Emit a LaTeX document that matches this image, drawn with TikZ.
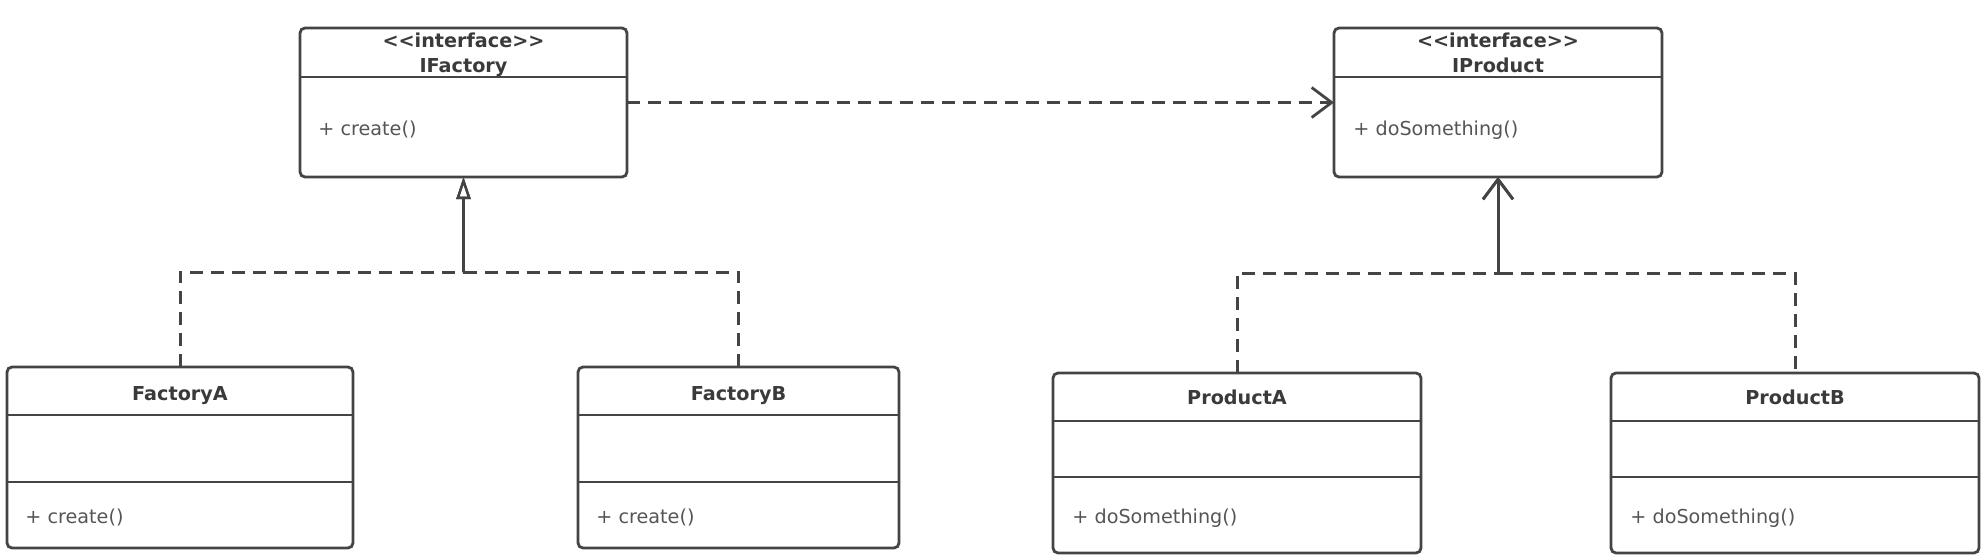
\documentclass[tikz,border=0pt]{standalone}
\usepackage{fontspec}
\setmainfont{DejaVu Sans}
\usepackage{xcolor}
\usetikzlibrary{arrows.meta,positioning}

\definecolor{umlline}{RGB}{68,68,68}
\definecolor{umltitle}{RGB}{58,58,58}
\definecolor{umltext}{RGB}{85,85,85}

\begin{document}
\begin{tikzpicture}[x=0.5pt,y=-0.5pt,
    font=\fontsize{9.6}{11}\selectfont,
    classbox/.style={draw=umlline,line width=1.4pt,rounded corners=2.5pt,
        inner sep=0pt,outer sep=0pt},
    title/.style={anchor=base,inner sep=0pt,text=umltitle,font=\fontsize{9.6}{11}\selectfont\bfseries},
    method/.style={anchor=base west,inner sep=0pt,text=umltext},
    divider/.style={draw=umlline,line width=1.4pt},
    realize/.style={draw=umlline,line width=1.5pt,dash pattern=on 6.5pt off 4pt,
        -{Triangle[open,length=11pt,width=7pt,line width=1.2pt]}},
    depend/.style={draw=umlline,line width=1.5pt,dash pattern=on 6.5pt off 4pt,
        -{Straight Barb[length=10pt,width=15pt,line width=1.4pt]}}]
    \useasboundingbox (0,0) rectangle (1986,556);

    % interfaces
    \node[classbox,minimum width=163.5pt,minimum height=74.5pt] (ifac) at (463.5,102.5) {};
    \draw[divider] (ifac.west |- 0,77) -- (ifac.east |- 0,77);
    \node[title] (ifacst) at (463.5,48) {<\kern0pt<interface>\kern0pt>};
    \node[title] (ifacname) at (463.5,73) {IFactory};
    \node[method] (ifacop) at (318,135) {+ create()};

    \node[classbox,minimum width=164pt,minimum height=74.5pt] (iprod) at (1498,102.5) {};
    \draw[divider] (iprod.west |- 0,77) -- (iprod.east |- 0,77);
    \node[title] (iprodst) at (1498,48) {<\kern0pt<interface>\kern0pt>};
    \node[title] (iprodname) at (1498,73) {IProduct};
    \node[method] (iprodop) at (1353,135) {+ doSomething()};

    % factories
    \node[classbox,minimum width=173pt,minimum height=90.5pt] (facA) at (180,457.5) {};
    \draw[divider] (facA.west |- 0,415) -- (facA.east |- 0,415);
    \draw[divider] (facA.west |- 0,482) -- (facA.east |- 0,482);
    \node[title] (facAname) at (180,400) {FactoryA};
    \node[method] (facAop) at (25,523) {+ create()};

    \node[classbox,minimum width=160.5pt,minimum height=90.5pt] (facB) at (738.5,457.5) {};
    \draw[divider] (facB.west |- 0,415) -- (facB.east |- 0,415);
    \draw[divider] (facB.west |- 0,482) -- (facB.east |- 0,482);
    \node[title] (facBname) at (738.5,400) {FactoryB};
    \node[method] (facBop) at (596,523) {+ create()};

    % products
    \node[classbox,minimum width=184pt,minimum height=90pt] (prodA) at (1237,463) {};
    \draw[divider] (prodA.west |- 0,421) -- (prodA.east |- 0,421);
    \draw[divider] (prodA.west |- 0,477) -- (prodA.east |- 0,477);
    \node[title] (prodAname) at (1237,404) {ProductA};
    \node[method] (prodAop) at (1072,523) {+ doSomething()};

    \node[classbox,minimum width=184pt,minimum height=90pt] (prodB) at (1795,463) {};
    \draw[divider] (prodB.west |- 0,421) -- (prodB.east |- 0,421);
    \draw[divider] (prodB.west |- 0,477) -- (prodB.east |- 0,477);
    \node[title] (prodBname) at (1795,404) {ProductB};
    \node[method] (prodBop) at (1630,523) {+ doSomething()};

    % relations
    \coordinate (facjoin) at (463.5,272);
    \coordinate (prodjoin) at (1498,273);
    \draw[realize] (facA.north) |- (facjoin) -- (ifac.south);
    \draw[realize] (facB.north) |- (facjoin) -- (ifac.south);
    \draw[depend] (prodA.north) |- (prodjoin) -- (iprod.south);
    \draw[depend,dash phase=8.25pt] (prodB.north) |- (prodjoin) -- (iprod.south);
    \draw[depend] (ifac.east) -- (iprod.west);
\end{tikzpicture}
\end{document}
